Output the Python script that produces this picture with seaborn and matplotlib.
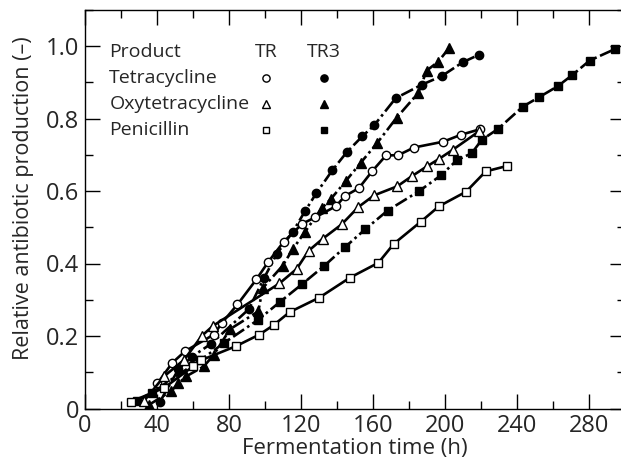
import numpy as np
import pandas as pd
import seaborn as sns
import matplotlib.pyplot as plt
from matplotlib.ticker import MultipleLocator

# Data (fermentation time in h, relative production)
#-------------------------------------------------------------------------------------------------#
tet_tr_t = [40.2, 48.5, 55.6, 71.6, 75.9, 84.7, 95.2, 101.9, 110.4, 120.8, 127.8, 139.4, 144.4,
            152.2, 159.6, 167.2, 174.1, 182.8, 199.0, 208.8, 219.2]
tet_tr_y = [0.069, 0.126, 0.158, 0.204, 0.235, 0.287, 0.356, 0.405, 0.460, 0.510, 0.527, 0.558,
            0.586, 0.608, 0.655, 0.698, 0.699, 0.720, 0.736, 0.755, 0.770]

tet_tr3_t = [41.7, 51.9, 59.4, 69.9, 91.0, 99.5, 106.5, 115.5, 122.2, 128.5, 137.4, 145.4, 154.1,
             160.6, 172.6, 187.0, 198.2, 209.8, 218.9]
tet_tr3_y = [0.019, 0.108, 0.143, 0.178, 0.274, 0.360, 0.426, 0.488, 0.544, 0.594, 0.657, 0.707,
             0.751, 0.781, 0.856, 0.893, 0.917, 0.955, 0.976]

oxy_tr_t = [33.0, 44.0, 55.2, 64.8, 71.1, 108.0, 117.6, 124.2, 132.0, 142.6, 151.9, 160.6, 173.5,
            181.6, 190.0, 196.5, 204.4, 219.0]
oxy_tr_y = [0.022, 0.089, 0.135, 0.200, 0.228, 0.345, 0.385, 0.435, 0.468, 0.508, 0.556, 0.588,
            0.613, 0.641, 0.668, 0.688, 0.714, 0.765]

oxy_tr3_t = [35.5, 47.8, 51.9, 56.3, 66.0, 71.5, 80.6, 96.3, 98.7, 109.8, 115.5, 122.3, 131.5,
             136.6, 144.8, 153.2, 162.4, 173.1, 185.2, 189.8, 196.3, 202.2]
oxy_tr3_y = [0.010, 0.048, 0.069, 0.089, 0.116, 0.148, 0.219, 0.268, 0.332, 0.394, 0.440, 0.488,
             0.552, 0.578, 0.627, 0.678, 0.733, 0.802, 0.871, 0.932, 0.957, 0.994]

pen_tr_t = [25.7, 44.0, 60.0, 64.4, 83.9, 96.9, 104.8, 113.7, 130.2, 147.2, 163.0, 171.5, 186.5,
            196.7, 211.7, 222.6, 234.4]
pen_tr_y = [0.019, 0.057, 0.116, 0.133, 0.172, 0.204, 0.230, 0.266, 0.306, 0.361, 0.402, 0.454,
            0.515, 0.558, 0.598, 0.654, 0.669]

pen_tr3_t = [28.7, 37.0, 64.0, 77.0, 96.3, 108.3, 120.6, 132.8, 144.4, 155.6, 168.1, 185.4, 197.7,
             206.6, 214.8, 220.4, 229.4, 243.3, 252.0, 262.6, 270.5, 280.4, 294.2]
pen_tr3_y = [0.020, 0.044, 0.133, 0.180, 0.245, 0.294, 0.343, 0.393, 0.445, 0.494, 0.546, 0.599,
             0.643, 0.685, 0.704, 0.741, 0.771, 0.833, 0.858, 0.889, 0.919, 0.960, 0.991]

products = ["Tetracycline", "Oxytetracycline", "Penicillin"]
x_ticks = [0, 40, 80, 120, 160, 200, 240, 280]
y_ticks = [0, 0.2, 0.4, 0.6, 0.8, 1.0]
y_tick_labels = ["0", "0.2", "0.4", "0.6", "0.8", "1.0"]

# Style
#-------------------------------------------------------------------------------------------------#
sns.set_style("ticks")
plt.rcParams['font.family'] = ['Open Sans', 'DejaVu Sans']

W, H = 621, 463
fig = plt.figure(figsize=(W / 100, H / 100), dpi=100)
ax = fig.add_axes([85 / W, 54.5 / H, 540 / W, 398.75 / H])

solid = '-'
dashdot = (0, (5, 1.4, 1, 1.4))
lw = 1.9
ms = 6.0

series = [
    (tet_tr3_t, tet_tr3_y, 'o', 'black', dashdot),
    (oxy_tr3_t, oxy_tr3_y, '^', 'black', dashdot),
    (pen_tr3_t, pen_tr3_y, 's', 'black', dashdot),
    (tet_tr_t, tet_tr_y, 'o', 'white', solid),
    (oxy_tr_t, oxy_tr_y, '^', 'white', solid),
    (pen_tr_t, pen_tr_y, 's', 'white', solid),
]

for t, y, mk, face, ls in series:
    df = pd.DataFrame({"time": t, "prod": y})
    size = ms + 1 if mk == '^' else (ms - 0.5 if mk == 's' else ms)
    sns.lineplot(data=df, x="time", y="prod", ax=ax, color='black', linewidth=lw,
                 linestyle=ls, marker=mk, markersize=size, markerfacecolor=face,
                 markeredgecolor='black', markeredgewidth=1.0, sort=False)

# Axes
#-------------------------------------------------------------------------------------------------#
ax.set_xlim(0, 300)
ax.set_ylim(0, 1.1)
ax.set_xticks(x_ticks)
ax.set_yticks(y_ticks)
ax.set_yticklabels(y_tick_labels)
ax.xaxis.set_minor_locator(MultipleLocator(20))
ax.yaxis.set_minor_locator(MultipleLocator(0.1))
ax.tick_params(which='both', direction='in', top=True, right=True, width=1.0, color='black')
ax.tick_params(which='major', length=11, labelsize=17, pad=4)
ax.tick_params(which='minor', length=5.5)
for s in ax.spines.values():
    s.set_linewidth(1.0)
    s.set_color('black')

ax.set_xlabel("Fermentation time (h)", fontsize=16)
ax.set_ylabel("Relative antibiotic production (\u2013)", fontsize=15.5)
ax.xaxis.set_label_coords(0.5, -0.073)
ax.yaxis.set_label_coords(-0.094, 0.528)

# Table-style legend
#-------------------------------------------------------------------------------------------------#
leg_fs = 14
col_x = [0.336, 0.442]
row_y = [0.828, 0.763, 0.698]
leg_ms = {'o': 5.2, '^': 6.2, 's': 5.0}
ax.text(0.045, 0.894, "Product", transform=ax.transAxes, fontsize=leg_fs, va='center', ha='left')
ax.text(col_x[0], 0.894, "TR", transform=ax.transAxes, fontsize=leg_fs, va='center', ha='center')
ax.text(col_x[1], 0.894, "TR3", transform=ax.transAxes, fontsize=leg_fs, va='center', ha='center')
for name, yy, mk in zip(products, row_y, ['o', '^', 's']):
    ax.text(0.045, yy, name, transform=ax.transAxes, fontsize=leg_fs, va='center', ha='left')
    ax.plot([col_x[0]], [yy], transform=ax.transAxes, marker=mk, ms=leg_ms[mk], mfc='white',
            mec='black', mew=1.0, ls='none', clip_on=False)
    ax.plot([col_x[1]], [yy], transform=ax.transAxes, marker=mk, ms=leg_ms[mk], mfc='black',
            mec='black', mew=1.0, ls='none', clip_on=False)

fig.savefig("out.png", dpi=100)
